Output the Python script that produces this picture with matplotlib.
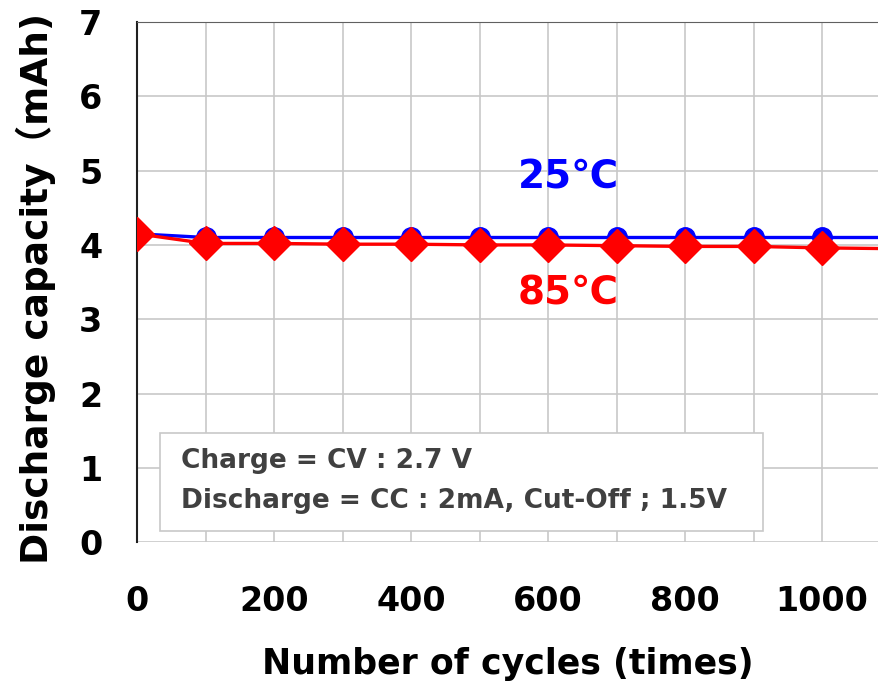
import numpy as np
import matplotlib.pyplot as plt
from matplotlib.patches import Rectangle

plt.rcParams['font.family'] = ['DejaVu Sans', 'Noto Sans CJK JP']

cycles = [0, 100, 200, 300, 400, 500, 600, 700, 800, 900, 1000, 1100]
cap_25 = [4.15, 4.10, 4.10, 4.10, 4.10, 4.10, 4.10, 4.10, 4.10, 4.10, 4.10, 4.10]
cap_85 = [4.15, 4.02, 4.02, 4.01, 4.01, 4.00, 4.00, 3.99, 3.98, 3.98, 3.96, 3.95]
xticks = [0, 200, 400, 600, 800, 1000]
yticks = [0, 1, 2, 3, 4, 5, 6, 7]

fig = plt.figure(figsize=(8.79, 6.88), dpi=100)
ax = fig.add_axes([0.156, 0.212, 0.844, 0.756])

# markers only up to 1000 cycles, the line runs on to the edge
ax.plot(cycles, cap_25, color='blue', lw=2.4, marker='o', ms=14,
        markevery=slice(0, 11), zorder=3)
ax.plot(cycles, cap_85, color='red', lw=2.4, marker='D', ms=17,
        markevery=slice(0, 11), zorder=4)

ax.set_xlim(0, 1083)
ax.set_ylim(0, 7)
ax.set_xticks(np.arange(0, 1100, 100), minor=True)
ax.set_xticks(xticks)
ax.set_yticks(yticks)
ax.grid(True, which='both', color='#c8c8c8', lw=1.2)
ax.tick_params(which='both', length=0)
ax.tick_params(axis='x', pad=31, labelsize=24)
ax.tick_params(axis='y', pad=25, labelsize=24)
for lab in ax.get_xticklabels() + ax.get_yticklabels():
    lab.set_fontweight('bold')
for s in ax.spines.values():
    s.set_color('#606060')
ax.spines['left'].set_color('#202020')
ax.spines['left'].set_linewidth(1.5)
ax.spines['right'].set_visible(False)
ax.spines['bottom'].set_visible(False)

ax.set_xlabel('Number of cycles (times)', fontsize=25, fontweight='bold', labelpad=21)
ax.set_ylabel('Discharge capacity（mAh)', fontsize=27, fontweight='bold')
ax.yaxis.set_label_coords(-0.11, 0.487)

ax.text(629, 4.91, '25℃', color='blue', fontsize=28, fontweight='bold',
        ha='center', va='center')
ax.text(629, 3.35, '85℃', color='red', fontsize=28, fontweight='bold',
        ha='center', va='center')

# condition box
ax.add_patch(Rectangle((34, 0.15), 879, 1.32, fc='white', ec='#c8c8c8',
                       lw=1.2, zorder=5))
ax.text(64, 1.09, 'Charge = CV : 2.7 V', color='#404040', fontsize=19,
        fontweight='bold', va='center', ha='left', zorder=6)
ax.text(64, 0.55, 'Discharge = CC : 2mA, Cut-Off ; 1.5V', color='#404040',
        fontsize=19, fontweight='bold', va='center', ha='left', zorder=6)

fig.savefig('out.png', dpi=100)
